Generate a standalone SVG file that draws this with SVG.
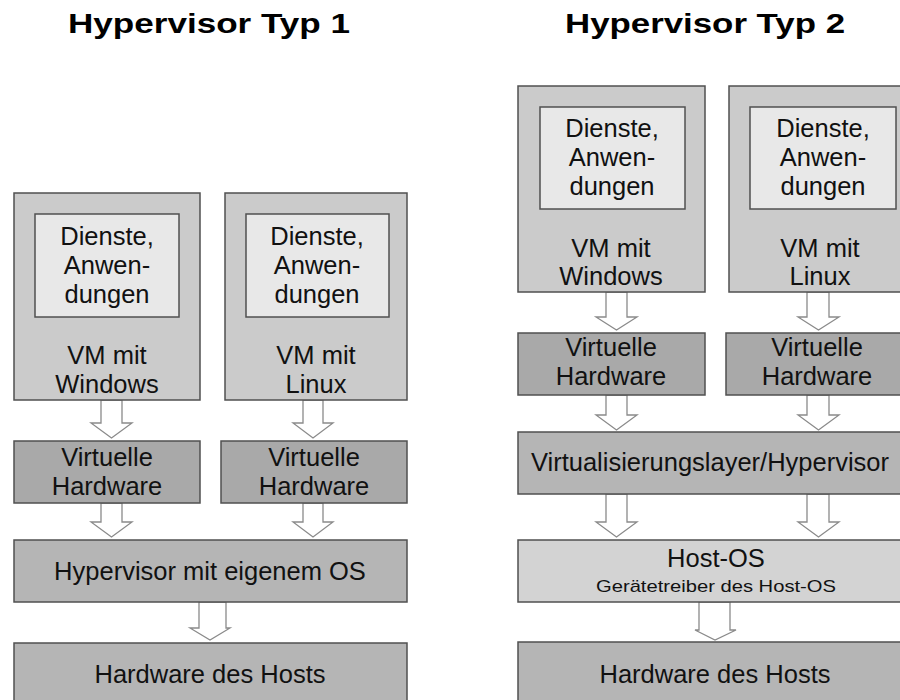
<svg xmlns="http://www.w3.org/2000/svg" width="900" height="700" viewBox="0 0 900 700">
<style>
.bg{fill:#ffffff}
.box{stroke:#505050;stroke-width:1.5}
.vm{fill:#cbcbcb}
.app{fill:#e8e8e8}
.vh{fill:#a9a9a9}
.hyp{fill:#b5b5b5}
.host{fill:#d3d3d3}
.hw{fill:#b5b5b5}
.arr{fill:#ffffff;stroke:#8a8a8a;stroke-width:1.3;stroke-linejoin:miter}
text{font-family:"Liberation Sans",Arial,sans-serif;fill:#111111;text-anchor:middle}
.t{font-size:25.5px}
.s{font-size:17px}
.h{font-size:28px;font-weight:bold;fill:#000}
</style>
<rect class="bg" x="0" y="0" width="900" height="700"/>
<g id="titles">
<text class="h" x="209" y="33" textLength="282" lengthAdjust="spacingAndGlyphs">Hypervisor Typ 1</text>
<text class="h" x="705" y="33" textLength="280" lengthAdjust="spacingAndGlyphs">Hypervisor Typ 2</text>
</g>
<g id="connectors">
<polygon class="arr" points="101,400 122,400 122,423 132,423 111.5,438 91,423 101,423"/>
<polygon class="arr" points="303,400 323,400 323,423 333,423 313,438 293,423 303,423"/>
<polygon class="arr" points="101,503 122,503 122,522 132,522 111.5,537 91,522 101,522"/>
<polygon class="arr" points="303,503 323,503 323,522 333,522 313,537 293,522 303,522"/>
<polygon class="arr" points="199,602 226,602 226,628 230,628 210,640 190,628 199,628"/>
<polygon class="arr" points="606,292 627,292 627,317 637,317 616.5,330 596,317 606,317"/>
<polygon class="arr" points="807,292 829,292 829,317 839,317 818.5,330 798,317 807,317"/>
<polygon class="arr" points="606,395 627,395 627,415 637,415 616.5,430 596,415 606,415"/>
<polygon class="arr" points="807,395 829,395 829,415 839,415 818.5,430 798,415 807,415"/>
<polygon class="arr" points="606,494 627,494 627,522 637,522 616.5,537 596,522 606,522"/>
<polygon class="arr" points="807,494 829,494 829,522 839,522 818.5,537 798,522 807,522"/>
<polygon class="arr" points="699,602 730,602 730,630 736,630 715,640 695,630 699,630"/>
</g>
<g id="vm-windows-1">
<rect class="box vm" x="14" y="193" width="186" height="207"/>
<rect class="box app" x="35" y="214" width="144" height="103"/>
<text class="t" x="107" y="245">Dienste,</text>
<text class="t" x="107" y="274">Anwen-</text>
<text class="t" x="107" y="303">dungen</text>
<text class="t" x="107" y="364">VM mit</text>
<text class="t" x="107" y="393">Windows</text>
</g>
<g id="vm-linux-1">
<rect class="box vm" x="225" y="193" width="182" height="207"/>
<rect class="box app" x="246" y="214" width="143" height="103"/>
<text class="t" x="317" y="245">Dienste,</text>
<text class="t" x="317" y="274">Anwen-</text>
<text class="t" x="317" y="303">dungen</text>
<text class="t" x="316" y="364">VM mit</text>
<text class="t" x="316" y="393">Linux</text>
</g>
<g id="vh-1a">
<rect class="box vh" x="14" y="441" width="186" height="62"/>
<text class="t" x="107" y="466">Virtuelle</text>
<text class="t" x="107" y="495">Hardware</text>
</g>
<g id="vh-1b">
<rect class="box vh" x="221" y="441" width="186" height="62"/>
<text class="t" x="314" y="466">Virtuelle</text>
<text class="t" x="314" y="495">Hardware</text>
</g>
<g id="hypervisor-1">
<rect class="box hyp" x="14" y="540" width="393" height="62"/>
<text class="t" x="210" y="580">Hypervisor mit eigenem OS</text>
</g>
<g id="hardware-1">
<rect class="box hw" x="14" y="643" width="393" height="70"/>
<text class="t" x="210" y="683">Hardware des Hosts</text>
</g>
<g id="vm-windows-2">
<rect class="box vm" x="518" y="86" width="187" height="206"/>
<rect class="box app" x="540" y="107" width="145" height="102"/>
<text class="t" x="612" y="137">Dienste,</text>
<text class="t" x="612" y="166">Anwen-</text>
<text class="t" x="612" y="195">dungen</text>
<text class="t" x="611" y="257">VM mit</text>
<text class="t" x="611" y="285">Windows</text>
</g>
<g id="vm-linux-2">
<rect class="box vm" x="729" y="86" width="200" height="206"/>
<rect class="box app" x="750" y="107" width="146" height="102"/>
<text class="t" x="823" y="137">Dienste,</text>
<text class="t" x="823" y="166">Anwen-</text>
<text class="t" x="823" y="195">dungen</text>
<text class="t" x="820" y="257">VM mit</text>
<text class="t" x="820" y="285">Linux</text>
</g>
<g id="vh-2a">
<rect class="box vh" x="518" y="333" width="187" height="62"/>
<text class="t" x="611" y="356">Virtuelle</text>
<text class="t" x="611" y="385">Hardware</text>
</g>
<g id="vh-2b">
<rect class="box vh" x="726" y="333" width="200" height="62"/>
<text class="t" x="817" y="356">Virtuelle</text>
<text class="t" x="817" y="385">Hardware</text>
</g>
<g id="virtualisierungslayer">
<rect class="box hyp" x="518" y="432" width="410" height="62"/>
<text class="t" x="710" y="471">Virtualisierungslayer/Hypervisor</text>
</g>
<g id="host-os">
<rect class="box host" x="518" y="540" width="410" height="62"/>
<text class="t" x="716" y="567">Host-OS</text>
<text class="s" x="716" y="592" textLength="240" lengthAdjust="spacingAndGlyphs">Gerätetreiber des Host-OS</text>
</g>
<g id="hardware-2">
<rect class="box hw" x="518" y="642" width="410" height="70"/>
<text class="t" x="715" y="683">Hardware des Hosts</text>
</g>
</svg>
